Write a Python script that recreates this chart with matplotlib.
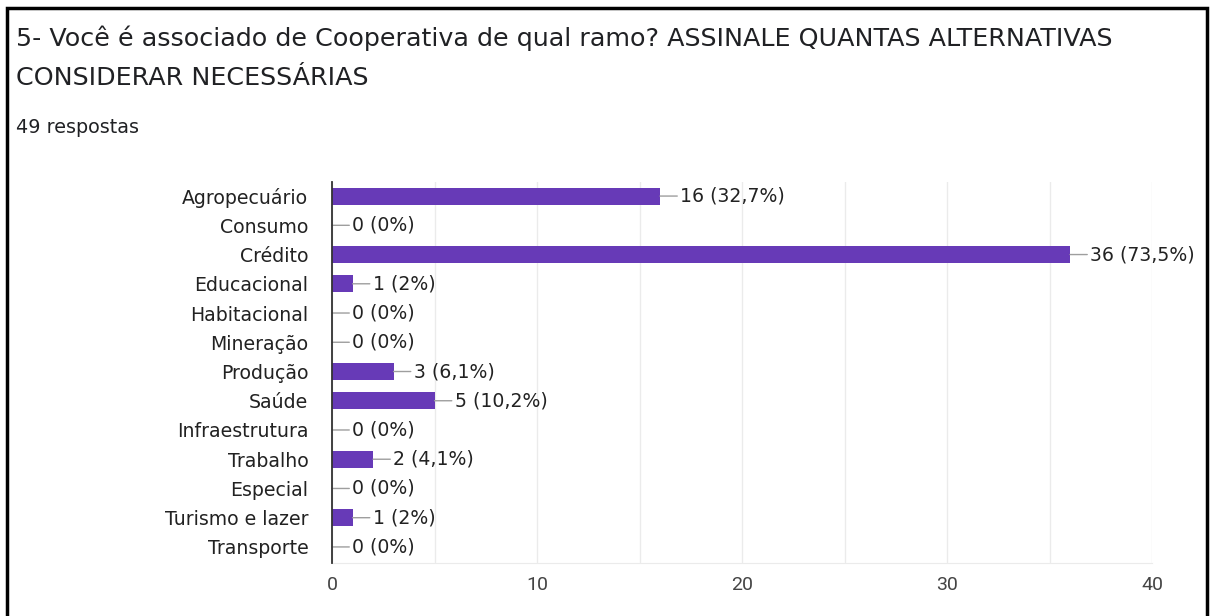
"""Recreate the Google Forms bar chart for question 5 (ramo da cooperativa)."""

import matplotlib

matplotlib.use("Agg")
import matplotlib.pyplot as plt
from matplotlib.patches import Rectangle
from matplotlib.ticker import MultipleLocator

TITLE_LINE_1 = "5- Você é associado de Cooperativa de qual ramo? ASSINALE QUANTAS ALTERNATIVAS"
TITLE_LINE_2 = "CONSIDERAR NECESSÁRIAS"
SUBTITLE = "49 respostas"

categories = [
    "Agropecuário", "Consumo", "Crédito", "Educacional", "Habitacional",
    "Mineração", "Produção", "Saúde", "Infraestrutura", "Trabalho",
    "Especial", "Turismo e lazer", "Transporte",
]
counts = [16, 0, 36, 1, 0, 0, 3, 5, 0, 2, 0, 1, 0]
percents = ["32,7%", "0%", "73,5%", "2%", "0%", "0%", "6,1%", "10,2%", "0%", "4,1%", "0%", "2%", "0%"]
x_ticks = [0, 10, 20, 30, 40]

BAR_COLOR = "#673ab7"
GRID_COLOR = "#ebebeb"
TEXT_COLOR = "#222222"

plt.rcParams["font.family"] = ["DejaVu Sans"]

fig = plt.figure(figsize=(12.11, 6.16), dpi=100)
ax = fig.add_axes([0.2742, 0.086, 0.6771, 0.6185])

y_pos = list(range(len(categories)))
ax.barh(y_pos, counts, height=0.58, color=BAR_COLOR, zorder=3)

for y, n, pct in zip(y_pos, counts, percents):
    ax.annotate(
        f"{n} ({pct})",
        xy=(n, y),
        xytext=(20, 0),
        textcoords="offset pixels",
        va="center",
        ha="left",
        fontsize=13.6,
        color=TEXT_COLOR,
        arrowprops=dict(arrowstyle="-", color="#9e9e9e", lw=1, shrinkA=0, shrinkB=0, relpos=(0, 0.5)),
        zorder=4,
    )

ax.set_ylim(len(categories) - 0.45, -0.48)
ax.set_xlim(0, 40)
ax.set_yticks(y_pos)
ax.set_yticklabels(categories, fontsize=13.6, color=TEXT_COLOR)
ax.set_xticks(x_ticks)
ax.set_xticklabels([str(t) for t in x_ticks], fontsize=14, color="#444444", family="Roboto")
ax.xaxis.set_minor_locator(MultipleLocator(5))
ax.tick_params(axis="both", which="both", length=0)
ax.tick_params(axis="y", pad=17)
ax.tick_params(axis="x", pad=9)
ax.grid(axis="x", which="both", color=GRID_COLOR, lw=1, zorder=0)

for side in ("top", "right"):
    ax.spines[side].set_visible(False)
ax.spines["bottom"].set_color(GRID_COLOR)
ax.spines["left"].set_color("#333333")
ax.spines["left"].set_linewidth(1.3)
ax.spines["left"].set_zorder(5)

fig.text(16 / 1211, 1 - 38 / 616, TITLE_LINE_1, fontsize=18.3, color="#202124", va="center", ha="left")
fig.text(16 / 1211, 1 - 78 / 616, TITLE_LINE_2, fontsize=18.3, color="#202124", va="center", ha="left")
fig.text(16 / 1211, 1 - 127 / 616, SUBTITLE, fontsize=13.8, color="#202124", va="center", ha="left")

# black frame around the screenshot (bottom edge falls outside the image)
fig.patches.append(
    Rectangle((7 / 1211, -0.05), 1200 / 1211, 1.05 - 8 / 616, transform=fig.transFigure,
              fill=False, edgecolor="black", lw=2.5)
)

fig.savefig("out.png", dpi=100)
